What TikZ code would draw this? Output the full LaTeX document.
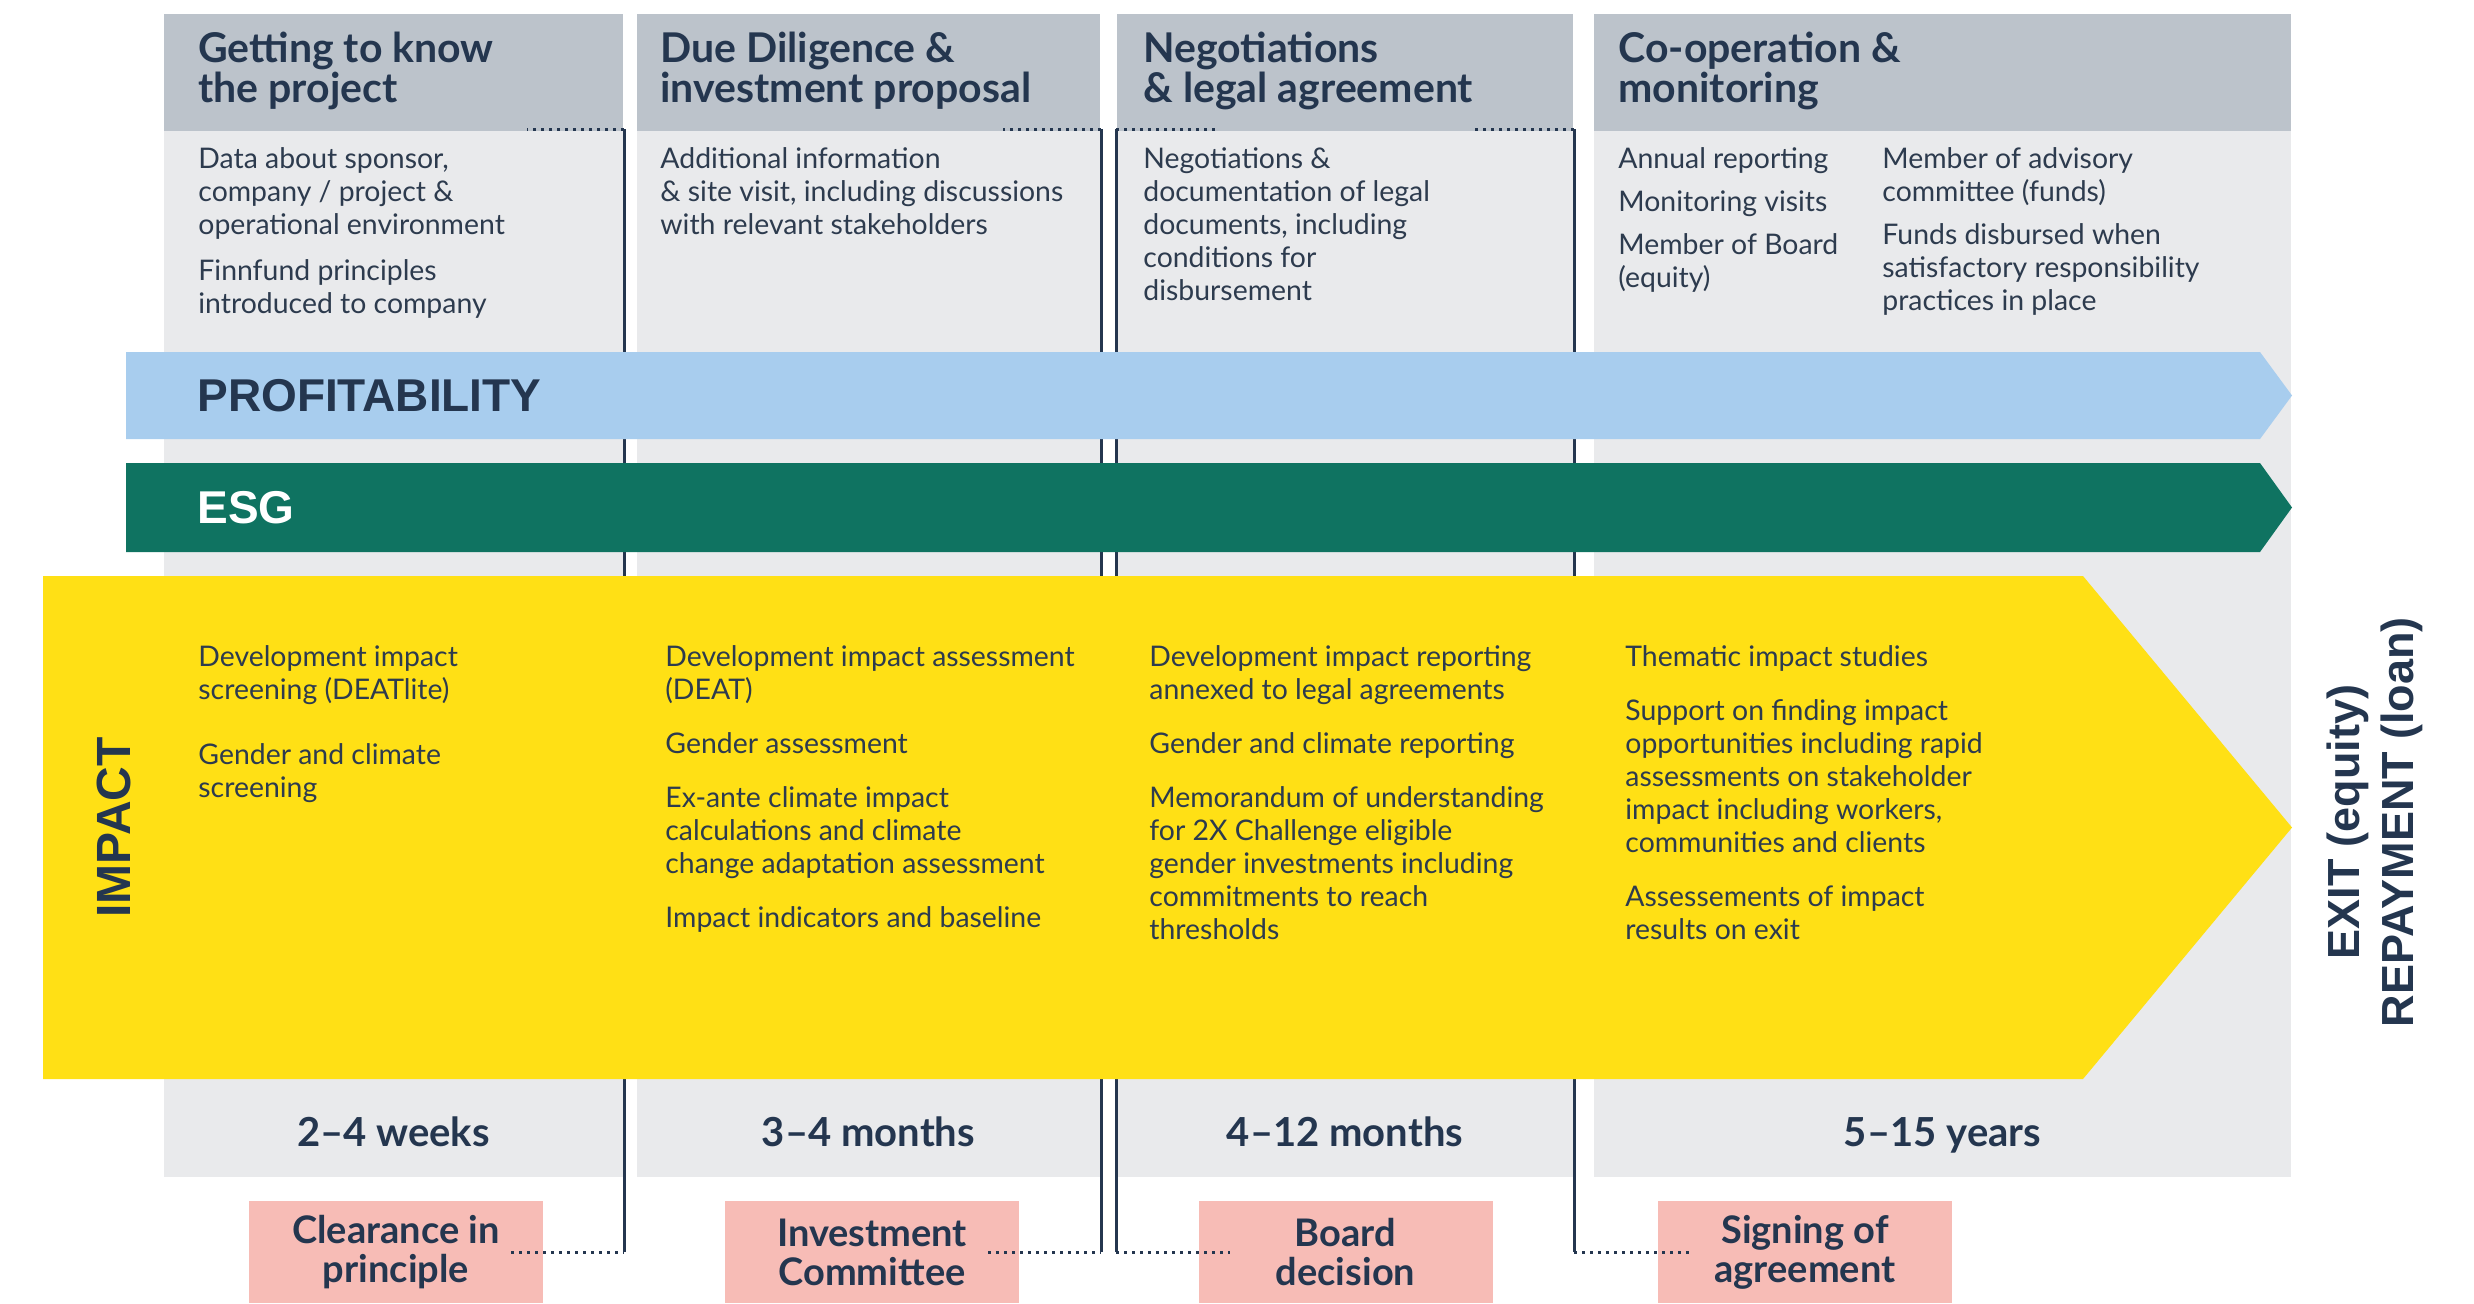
\documentclass[tikz,border=0pt]{standalone}
\usepackage{fontspec}
\setmainfont{Lato}
\newfontfamily\capsfont{Liberation Sans}
\usepackage{xcolor}
\definecolor{ffNavy}{HTML}{24364F}
\definecolor{ffText}{HTML}{2D3B4E}
\definecolor{ffHead}{HTML}{BCC3CB}
\definecolor{ffBody}{HTML}{E9EAEC}
\definecolor{ffBlue}{HTML}{A8CDEE}
\definecolor{ffGreen}{HTML}{0F7361}
\definecolor{ffYellow}{HTML}{FFE015}
\definecolor{ffPink}{HTML}{F7BCB6}
\begin{document}
\begin{tikzpicture}[x=0.5pt, y=-0.5pt,
  head/.style={fill=ffHead},
  body/.style={fill=ffBody},
  htxt/.style={anchor=north west, inner sep=0pt, align=left, text=ffNavy, font=\fontsize{20.5}{20}\selectfont\bfseries},
  btxt/.style={anchor=north west, inner sep=0pt, align=left, text=ffText, font=\fontsize{14.2}{16.5}\selectfont},
  dur/.style={anchor=base, inner sep=0pt, text=ffNavy, font=\fontsize{20}{24}\selectfont\bfseries},
  gate/.style={fill=ffPink, minimum width=147pt, minimum height=51pt, inner sep=0pt, align=center, text=ffNavy, font=\fontsize{19}{19.5}\selectfont\bfseries},
  band/.style={inner sep=0pt, font=\capsfont\fontsize{23}{24}\selectfont\bfseries},
  rail/.style={ffNavy, line width=1.5pt},
  tick/.style={ffNavy, line width=1.5pt, dash pattern=on 1.5pt off 2.5pt}]
\useasboundingbox (0,0) rectangle (2474,1303);
% phase columns
\fill[head] (164,14) rectangle (623,131);
\fill[body] (164,131) rectangle (623,1177);
\fill[head] (637,14) rectangle (1100,131);
\fill[body] (637,131) rectangle (1100,1177);
\fill[head] (1117,14) rectangle (1573,131);
\fill[body] (1117,131) rectangle (1573,1177);
\fill[head] (1594,14) rectangle (2291,131);
\fill[body] (1594,131) rectangle (2291,1177);
% milestone rails
\coordinate (cpT) at (624,129);  \coordinate (cpB) at (624,1252);
\coordinate (icT) at (1101,129); \coordinate (icB) at (1101,1252);
\coordinate (bdT) at (1116,129); \coordinate (bdB) at (1116,1252);
\coordinate (saT) at (1574,129); \coordinate (saB) at (1574,1252);
\draw[rail] (cpT) -- (cpB);
\draw[rail] (icT) -- (icB);
\draw[rail] (bdT) -- (bdB);
\draw[rail] (saT) -- (saB);
\draw[tick] (cpT) -- ++(-97,0);
\draw[tick] (icT) -- ++(-98,0);
\draw[tick] (bdT) -- ++(99,0);
\draw[tick] (saT) -- ++(-101,0);
% bands
\fill[ffBlue] (126,352) -- (2260,352) -- (2292,395.5) -- (2260,439) -- (126,439) -- cycle;
\fill[ffGreen] (126,463) -- (2260,463) -- (2292,507.5) -- (2260,552) -- (126,552) -- cycle;
\fill[ffYellow] (43,576) -- (2083,576) -- (2292,827.5) -- (2083,1079) -- (43,1079) -- cycle;
\node[band, anchor=west, text=ffNavy] (profit) at (197,395.5) {PROFITABILITY};
\node[band, anchor=west, text=white] (esg) at (197,507.5) {ESG};
\node[band, rotate=90, text=ffNavy, font=\capsfont\fontsize{24}{24}\selectfont\bfseries] (impact) at (114,827.5) {IMPACT};
\node[band, rotate=90, align=center, text=ffNavy, font=\capsfont\fontsize{22.5}{27}\selectfont\bfseries] (exit) at (2375,822) {EXIT (equity)\\REPAYMENT (loan)};
% headers and tasks
\node[htxt] (h1) at (198,32) {Getting to know\\the project};
\node[htxt] (h2) at (660,32) {Due Diligence \&\\investment proposal};
\node[htxt] (h3) at (1143,32) {Negotiations\\\& legal agreement};
\node[htxt] (h4) at (1618,32) {Co-operation \&\\monitoring};
\node[btxt] (b1) at (198,147) {Data about sponsor,\\company / project \&\\operational environment\\[6.5pt]Finnfund principles\\introduced to company};
\node[btxt] (b2) at (660,147) {Additional information\\\& site visit, including discussions\\with relevant stakeholders};
\node[btxt] (b3) at (1143,147) {Negotiations \&\\documentation of legal\\documents, including\\conditions for\\disbursement};
\node[btxt] (b4) at (1618,147) {Annual reporting\\[5pt]Monitoring visits\\[5pt]Member of Board\\(equity)};
\node[btxt] (b5) at (1882,147) {Member of advisory\\committee (funds)\\[5pt]Funds disbursed when\\satisfactory responsibility\\practices in place};
% impact tasks
\node[btxt] (i1) at (198,645) {Development impact\\screening (DEATlite)\\[16pt]Gender and climate\\screening};
\node[btxt] (i2) at (665,645) {Development impact assessment\\(DEAT)\\[10.5pt]Gender assessment\\[10.5pt]Ex-ante climate impact\\calculations and climate\\change adaptation assessment\\[10.5pt]Impact indicators and baseline};
\node[btxt] (i3) at (1149,645) {Development impact reporting\\annexed to legal agreements\\[10.5pt]Gender and climate reporting\\[10.5pt]Memorandum of understanding\\for 2X Challenge eligible\\gender investments including\\commitments to reach\\thresholds};
\node[btxt] (i4) at (1625,645) {Thematic impact studies\\[10.5pt]Support on finding impact\\opportunities including rapid\\assessments on stakeholder\\impact including workers,\\communities and clients\\[10.5pt]Assessements of impact\\results on exit};
% durations and milestones
\node[dur] (d1) at (393.5,1146) {2–4 weeks};
\node[dur] (d2) at (868.5,1146) {3–4 months};
\node[dur] (d3) at (1345,1146) {4–12 months};
\node[dur] (d4) at (1942.5,1146) {5–15 years};
\node[gate] (cp) at (396,1252) {Clearance in\\principle};
\node[gate] (ic) at (872,1252) {Investment\\Committee};
\node[gate] (bd) at (1345.5,1252) {Board\\decision};
\node[gate] (sa) at (1805,1252) {Signing of\\agreement};
\draw[tick] ([xshift=-16pt]cp.east) -- (cpB);
\draw[tick] ([xshift=-15.5pt]ic.east) -- (icB);
\draw[tick] (bdB) -- ([xshift=16pt]bd.west);
\draw[tick] (saB) -- ([xshift=16pt]sa.west);
\end{tikzpicture}
\end{document}
